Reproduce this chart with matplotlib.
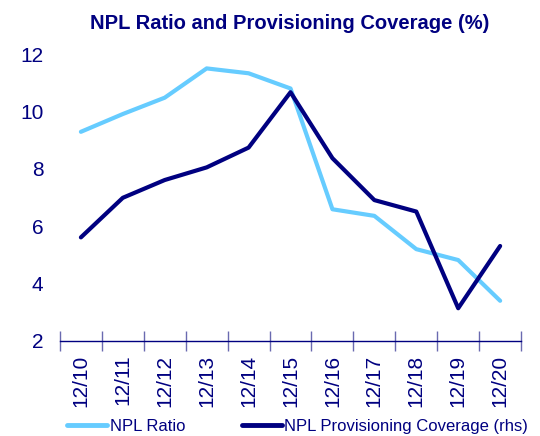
import numpy as np
import matplotlib.pyplot as plt

plt.rcParams['font.family'] = ['Liberation Sans', 'DejaVu Sans']

# data
periods = ["12/10", "12/11", "12/12", "12/13", "12/14", "12/15",
           "12/16", "12/17", "12/18", "12/19", "12/20"]
npl_ratio = [9.29, 9.91, 10.48, 11.50, 11.33, 10.80, 6.59, 6.36, 5.20, 4.82, 3.40]
npl_coverage = [5.61, 6.99, 7.61, 8.05, 8.74, 10.67, 8.37, 6.91, 6.51, 3.14, 5.31]

navy = "#000080"
light = "#66CCFF"

fig = plt.figure(figsize=(5.4, 4.36), dpi=100)
ax = fig.add_axes([0.111, 0.218, 0.854, 0.658])

x = np.arange(len(periods))
ax.plot(x, npl_ratio, color=light, lw=3, label="NPL Ratio", solid_capstyle='round')
ax.plot(x, npl_coverage, color=navy, lw=3, label="NPL Provisioning Coverage (rhs)",
        solid_capstyle='round')

ax.set_xlim(-0.5, len(periods) - 0.5)
ax.set_ylim(2, 12)
ax.set_yticks([2, 4, 6, 8, 10, 12])

for s in ["top", "right", "left"]:
    ax.spines[s].set_visible(False)
ax.spines["bottom"].set_color(navy)
ax.spines["bottom"].set_linewidth(1)

# category labels centred, tick marks on the boundaries
ax.set_xticks(x)
ax.set_xticklabels(periods, rotation=90)
ax.set_xticks(np.arange(-0.5, len(periods)), minor=True)
ax.tick_params(axis='x', which='major', length=0, pad=10, labelsize=15, labelcolor=navy)
ax.tick_params(axis='x', which='minor', length=14, direction='inout', color="#6A6AB0", width=1)
ax.tick_params(axis='y', length=0, pad=12, labelsize=15, labelcolor=navy)

fig.text(0.536, 0.947, "NPL Ratio and Provisioning Coverage (%)", ha='center', va='center',
         fontsize=14.5, fontweight='bold', color=navy)

leg = fig.legend(loc='center', bbox_to_anchor=(0.551, 0.022), ncol=2,
                 frameon=False, fontsize=12, handlelength=2.4, handletextpad=0.15,
                 columnspacing=3.4, borderpad=0, borderaxespad=0)
for line in leg.get_lines():
    line.set_linewidth(3.5)
for t in leg.get_texts():
    t.set_color(navy)

plt.savefig("out.png")
